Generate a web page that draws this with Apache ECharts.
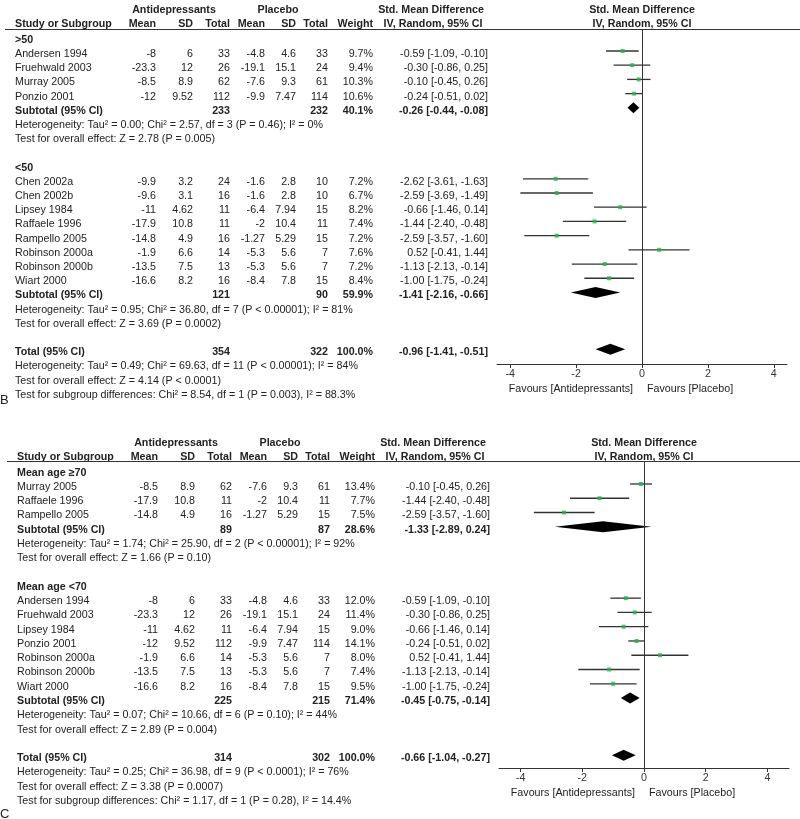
<!DOCTYPE html>
<html>
<head>
<meta charset="utf-8">
<script src="https://cdn.jsdelivr.net/npm/echarts@6/dist/echarts.min.js"></script>
<style>
  html, body { margin: 0; padding: 0; background: #fff; }
  #main { width: 800px; height: 819px; }
</style>
</head>
<body>
<div id="main"></div>
<script>
// ---------- panel B : subgroups >50 / <50 ----------
var b1Label = '>50';
var b1Study = ['Andersen 1994', 'Fruehwald 2003', 'Murray 2005', 'Ponzio 2001'];
var b1AMean = [-8, -23.3, -8.5, -12];
var b1ASd = [6, 12, 8.9, 9.52];
var b1AN = [33, 26, 62, 112];
var b1PMean = [-4.8, -19.1, -7.6, -9.9];
var b1PSd = [4.6, 15.1, 9.3, 7.47];
var b1PN = [33, 24, 61, 114];
var b1Weight = [9.7, 9.4, 10.3, 10.6];
var b1Smd = [-0.59, -0.30, -0.10, -0.24];
var b1Lo = [-1.09, -0.86, -0.45, -0.51];
var b1Hi = [-0.10, 0.25, 0.26, 0.02];
var b1SubN = [233, 232];
var b1SubWeight = 40.1;
var b1SubEst = [-0.26, -0.44, -0.08];
var b1Het = 'Heterogeneity: Tau² = 0.00; Chi² = 2.57, df = 3 (P = 0.46); I² = 0%';
var b1Test = 'Test for overall effect: Z = 2.78 (P = 0.005)';

var b2Label = '<50';
var b2Study = ['Chen 2002a', 'Chen 2002b', 'Lipsey 1984', 'Raffaele 1996', 'Rampello 2005', 'Robinson 2000a', 'Robinson 2000b', 'Wiart 2000'];
var b2AMean = [-9.9, -9.6, -11, -17.9, -14.8, -1.9, -13.5, -16.6];
var b2ASd = [3.2, 3.1, 4.62, 10.8, 4.9, 6.6, 7.5, 8.2];
var b2AN = [24, 16, 11, 11, 16, 14, 13, 16];
var b2PMean = [-1.6, -1.6, -6.4, -2, -1.27, -5.3, -5.3, -8.4];
var b2PSd = [2.8, 2.8, 7.94, 10.4, 5.29, 5.6, 5.6, 7.8];
var b2PN = [10, 10, 15, 11, 15, 7, 7, 15];
var b2Weight = [7.2, 6.7, 8.2, 7.4, 7.2, 7.6, 7.2, 8.4];
var b2Smd = [-2.62, -2.59, -0.66, -1.44, -2.59, 0.52, -1.13, -1.00];
var b2Lo = [-3.61, -3.69, -1.46, -2.40, -3.57, -0.41, -2.13, -1.75];
var b2Hi = [-1.63, -1.49, 0.14, -0.48, -1.60, 1.44, -0.14, -0.24];
var b2SubN = [121, 90];
var b2SubWeight = 59.9;
var b2SubEst = [-1.41, -2.16, -0.66];
var b2Het = 'Heterogeneity: Tau² = 0.95; Chi² = 36.80, df = 7 (P < 0.00001); I² = 81%';
var b2Test = 'Test for overall effect: Z = 3.69 (P = 0.0002)';

var bTotN = [354, 322];
var bTotEst = [-0.96, -1.41, -0.51];
var bTotNotes = [
  'Heterogeneity: Tau² = 0.49; Chi² = 69.63, df = 11 (P < 0.00001); I² = 84%',
  'Test for overall effect: Z = 4.14 (P < 0.0001)',
  'Test for subgroup differences: Chi² = 8.54, df = 1 (P = 0.003), I² = 88.3%'
];

// ---------- panel C : mean age >=70 / <70 ----------
var c1Label = 'Mean age ≥70';
var c1Study = ['Murray 2005', 'Raffaele 1996', 'Rampello 2005'];
var c1AMean = [-8.5, -17.9, -14.8];
var c1ASd = [8.9, 10.8, 4.9];
var c1AN = [62, 11, 16];
var c1PMean = [-7.6, -2, -1.27];
var c1PSd = [9.3, 10.4, 5.29];
var c1PN = [61, 11, 15];
var c1Weight = [13.4, 7.7, 7.5];
var c1Smd = [-0.10, -1.44, -2.59];
var c1Lo = [-0.45, -2.40, -3.57];
var c1Hi = [0.26, -0.48, -1.60];
var c1SubN = [89, 87];
var c1SubWeight = 28.6;
var c1SubEst = [-1.33, -2.89, 0.24];
var c1Het = 'Heterogeneity: Tau² = 1.74; Chi² = 25.90, df = 2 (P < 0.00001); I² = 92%';
var c1Test = 'Test for overall effect: Z = 1.66 (P = 0.10)';

var c2Label = 'Mean age <70';
var c2Study = ['Andersen 1994', 'Fruehwald 2003', 'Lipsey 1984', 'Ponzio 2001', 'Robinson 2000a', 'Robinson 2000b', 'Wiart 2000'];
var c2AMean = [-8, -23.3, -11, -12, -1.9, -13.5, -16.6];
var c2ASd = [6, 12, 4.62, 9.52, 6.6, 7.5, 8.2];
var c2AN = [33, 26, 11, 112, 14, 13, 16];
var c2PMean = [-4.8, -19.1, -6.4, -9.9, -5.3, -5.3, -8.4];
var c2PSd = [4.6, 15.1, 7.94, 7.47, 5.6, 5.6, 7.8];
var c2PN = [33, 24, 15, 114, 7, 7, 15];
var c2Weight = [12.0, 11.4, 9.0, 14.1, 8.0, 7.4, 9.5];
var c2Smd = [-0.59, -0.30, -0.66, -0.24, 0.52, -1.13, -1.00];
var c2Lo = [-1.09, -0.86, -1.46, -0.51, -0.41, -2.13, -1.75];
var c2Hi = [-0.10, 0.25, 0.14, 0.02, 1.44, -0.14, -0.24];
var c2SubN = [225, 215];
var c2SubWeight = 71.4;
var c2SubEst = [-0.45, -0.75, -0.14];
var c2Het = 'Heterogeneity: Tau² = 0.07; Chi² = 10.66, df = 6 (P = 0.10); I² = 44%';
var c2Test = 'Test for overall effect: Z = 2.89 (P = 0.004)';

var cTotN = [314, 302];
var cTotEst = [-0.66, -1.04, -0.27];
var cTotNotes = [
  'Heterogeneity: Tau² = 0.25; Chi² = 36.98, df = 9 (P < 0.0001); I² = 76%',
  'Test for overall effect: Z = 3.38 (P = 0.0007)',
  'Test for subgroup differences: Chi² = 1.17, df = 1 (P = 0.28), I² = 14.4%'
];

var tickValues = [-4, -2, 0, 2, 4];
var favours = ['Favours [Antidepressants]', 'Favours [Placebo]'];

// ---------- layout ----------
var FONT = '"Liberation Sans", Arial, sans-serif';
var FS = 10.7;
var TXT = '#222';

function group(label, study, aMean, aSd, aN, pMean, pSd, pN, weight, smd, lo, hi, subN, subW, subEst, het, test) {
  return { label: label, study: study, aMean: aMean, aSd: aSd, aN: aN, pMean: pMean, pSd: pSd, pN: pN,
    weight: weight, smd: smd, lo: lo, hi: hi, subN: subN, subW: subW, subEst: subEst, het: het, test: test };
}

function buildRows(groups, totN, totEst, totNotes) {
  var rows = [{ kind: 'head1', y: -2.1 }, { kind: 'head2', y: -1.1 }];
  var r = 0;
  groups.forEach(function (g) {
    rows.push({ kind: 'group', y: r++, name: g.label });
    g.study.forEach(function (s, i) {
      rows.push({ kind: 'study', y: r++, name: s,
        cells: [g.aMean[i], g.aSd[i], g.aN[i], g.pMean[i], g.pSd[i], g.pN[i]],
        weight: g.weight[i], est: [g.smd[i], g.lo[i], g.hi[i]] });
    });
    rows.push({ kind: 'sub', y: r++, name: 'Subtotal (95% CI)',
      cells: ['', '', g.subN[0], '', '', g.subN[1]], weight: g.subW, est: g.subEst });
    rows.push({ kind: 'note', y: r++, name: g.het });
    rows.push({ kind: 'note', y: r++, name: g.test });
    r++;
  });
  rows.push({ kind: 'sub', y: r++, name: 'Total (95% CI)',
    cells: ['', '', totN[0], '', '', totN[1]], weight: 100, est: totEst });
  totNotes.forEach(function (n) { rows.push({ kind: 'note', y: r++, name: n }); });
  rows.push({ kind: 'foot', y: r - 1 });
  return rows;
}

var panels = [
  {
    rows: buildRows([
      group(b1Label, b1Study, b1AMean, b1ASd, b1AN, b1PMean, b1PSd, b1PN, b1Weight, b1Smd, b1Lo, b1Hi, b1SubN, b1SubWeight, b1SubEst, b1Het, b1Test),
      group(b2Label, b2Study, b2AMean, b2ASd, b2AN, b2PMean, b2PSd, b2PN, b2Weight, b2Smd, b2Lo, b2Hi, b2SubN, b2SubWeight, b2SubEst, b2Het, b2Test)
    ], bTotN, bTotEst, bTotNotes),
    grid: { left: 497, width: 290, top: 29, height: 335 },
    xMin: -4.4, xMax: 4.4, yMin: -0.55, yMax: 23.04,
    off: 0, letter: 'B', letterDy: 6
  },
  {
    rows: buildRows([
      group(c1Label, c1Study, c1AMean, c1ASd, c1AN, c1PMean, c1PSd, c1PN, c1Weight, c1Smd, c1Lo, c1Hi, c1SubN, c1SubWeight, c1SubEst, c1Het, c1Test),
      group(c2Label, c2Study, c2AMean, c2ASd, c2AN, c2PMean, c2PSd, c2PN, c2Weight, c2Smd, c2Lo, c2Hi, c2SubN, c2SubWeight, c2SubEst, c2Het, c2Test)
    ], cTotN, cTotEst, cTotNotes),
    grid: { left: 499, width: 290, top: 461, height: 307 },
    xMin: -4.7, xMax: 4.7, yMin: -0.61, yMax: 20.90,
    off: 2, letter: 'C', letterDy: 13
  }
];

// column right edges of the table
var colX = [156, 193, 230, 265, 296, 328];
var weightX = 373;
var estX = 488;

function fmtEst(e) {
  return e[0].toFixed(2) + ' [' + e[1].toFixed(2) + ', ' + e[2].toFixed(2) + ']';
}

function tableRender(p) {
  return function (params, api) {
    var row = p.rows[params.dataIndex];
    var pt = api.coord([0, row.y]);
    var x0 = pt[0];
    var y = pt[1] + 3;
    var o = p.off;
    var kids = [];
    function t(str, x, align, bold, size, yy) {
      kids.push({ type: 'text', silent: true, style: {
        text: String(str), x: x, y: yy == null ? y : yy, align: align, verticalAlign: 'middle',
        fill: TXT, font: (bold ? 'bold ' : '') + (size || FS) + 'px ' + FONT } });
    }
    if (row.kind === 'head1') {
      t('Antidepressants', 174 + o, 'center', true);
      t('Placebo', 278 + o, 'center', true);
      t('Std. Mean Difference', 431 + o, 'center', true);
      t('Std. Mean Difference', x0, 'center', true);
    } else if (row.kind === 'head2') {
      t('Study or Subgroup', 15 + o, 'left', true);
      ['Mean', 'SD', 'Total', 'Mean', 'SD', 'Total'].forEach(function (h, i) { t(h, colX[i] + o, 'right', true); });
      t('Weight', weightX + o, 'right', true);
      t('IV, Random, 95% CI', 433 + o, 'center', true);
      t('IV, Random, 95% CI', x0, 'center', true);
      var ly = api.coord([0, p.yMin])[1] + 0.5;
      kids.push({ type: 'line', silent: true, shape: { x1: 5 + o, y1: ly, x2: 800, y2: ly },
        style: { stroke: '#333', lineWidth: 1 } });
    } else if (row.kind === 'group') {
      t(row.name, 15 + o, 'left', true);
    } else if (row.kind === 'study' || row.kind === 'sub') {
      var b = row.kind === 'sub';
      t(row.name, 15 + o, 'left', b);
      row.cells.forEach(function (c, i) { if (c !== '') t(c, colX[i] + o, 'right', b); });
      t(row.weight.toFixed(1) + '%', weightX + o, 'right', b);
      t(fmtEst(row.est), estX + o, 'right', b);
    } else if (row.kind === 'note') {
      t(row.name, 15 + o, 'left', false);
    } else if (row.kind === 'foot') {
      t(p.letter, 0, 'left', false, 13, y + p.letterDy);
      var zx = api.coord([0, p.yMax]);
      t(favours[0], zx[0] - 9, 'right', false, FS, zx[1] + 25);
      t(favours[1], zx[0] + 5, 'left', false, FS, zx[1] + 25);
    }
    return { type: 'group', children: kids };
  };
}

function ciRender(params, api) {
  var a = api.coord([api.value(0), api.value(2)]);
  var b = api.coord([api.value(1), api.value(2)]);
  return { type: 'line', shape: { x1: a[0], y1: a[1], x2: b[0], y2: b[1] },
    style: { stroke: '#333', lineWidth: 1.3 } };
}

function diamondRender(params, api) {
  var y = api.value(3);
  var l = api.coord([api.value(0), y]);
  var m = api.coord([api.value(1), y]);
  var r = api.coord([api.value(2), y]);
  var h = 5.5;
  return { type: 'polygon', shape: { points: [[l[0], l[1]], [m[0], m[1] - h], [r[0], r[1]], [m[0], m[1] + h]] },
    style: { fill: '#000' } };
}

var option = { animation: false, backgroundColor: '#fff', grid: [], xAxis: [], yAxis: [], series: [] };

panels.forEach(function (p, i) {
  option.grid.push(p.grid);
  option.xAxis.push({
    gridIndex: i, type: 'value', position: 'bottom', min: p.xMin, max: p.xMax,
    splitLine: { show: false },
    axisLine: { onZero: false, lineStyle: { color: '#333', width: 1 } },
    axisTick: { customValues: tickValues, length: 4, lineStyle: { color: '#333' } },
    axisLabel: { customValues: tickValues, color: '#333', fontSize: FS, margin: 5, fontFamily: FONT }
  });
  option.yAxis.push({ gridIndex: i, type: 'value', inverse: true, min: p.yMin, max: p.yMax, show: false });

  var studies = p.rows.filter(function (r) { return r.kind === 'study'; });
  var subs = p.rows.filter(function (r) { return r.kind === 'sub'; });

  option.series.push({
    type: 'custom', xAxisIndex: i, yAxisIndex: i, clip: false, silent: true,
    data: p.rows.map(function (r) { return [0, r.y]; }),
    encode: { x: 0, y: 1 },
    renderItem: tableRender(p)
  });
  option.series.push({
    type: 'custom', xAxisIndex: i, yAxisIndex: i, clip: false, silent: true, z: 3,
    data: studies.map(function (r) { return [r.est[1], r.est[2], r.y]; }),
    encode: { x: [0, 1], y: 2 },
    renderItem: ciRender,
    markLine: {
      silent: true, symbol: ['none', 'none'], label: { show: false },
      lineStyle: { color: '#333', type: 'solid', width: 1 },
      data: [{ xAxis: 0 }]
    }
  });
  option.series.push({
    type: 'scatter', xAxisIndex: i, yAxisIndex: i, silent: true, z: 4,
    symbol: 'rect', symbolSize: 4,
    itemStyle: { color: '#25b34a' },
    data: studies.map(function (r) { return [r.est[0], r.y]; })
  });
  option.series.push({
    type: 'custom', xAxisIndex: i, yAxisIndex: i, clip: false, silent: true, z: 4,
    data: subs.map(function (r) { return [r.est[1], r.est[0], r.est[2], r.y]; }),
    encode: { x: [0, 1, 2], y: 3 },
    renderItem: diamondRender
  });
});

var chart = echarts.init(document.getElementById('main'));
chart.setOption(option);
</script>
</body>
</html>
